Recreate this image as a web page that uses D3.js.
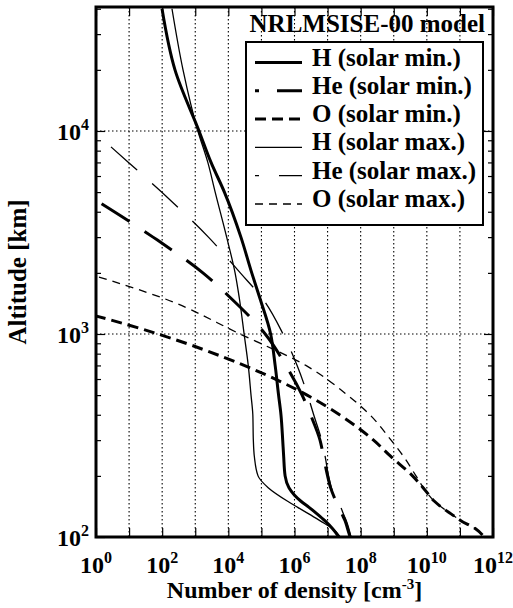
<!doctype html>
<html lang="en">
<head>
<meta charset="utf-8">
<title>NRLMSISE-00 model</title>
<script src="https://d3js.org/d3.v7.min.js"></script>
<style>
  body { margin: 0; background: #fff; }
</style>
</head>
<body>
<script>

// altitude grid [km] shared by every profile
var altitudes = [100, 110, 120, 130, 140, 150, 175, 200, 250, 300, 400, 500, 700, 1000, 1500, 2000, 3000, 5000, 7000, 10000, 20000, 40000];

// number densities [cm^-3] (null = not drawn)
var hMin  = [2.2e7, 1.4e7, 8.4e6, 4.8e6, 2.75e6, 1.57e6, 6.8e5, 5.2e5, 4.7e5, 4.4e5, 3.9e5, 3.3e5, 2.6e5, 1.9e5, 9.0e4, 5.1e4, 2.4e4, 7.6e3, 3.0e3, 1.3e3, 244, 99];
var heMin = [4.8e7, 4.0e7, 3.4e7, 2.7e7, 2.2e7, 1.8e7, 1.23e7, 1.0e7, 7.5e6, 5.9e6, 3.05e6, 1.7e6, 5.5e5, 1.3e5, 1.2e4, 1.7e3, 53, 0.4, null, null, null, null];
var oMin  = [5.4e11, 2.9e11, 1.1e11, 5.4e10, 2.8e10, 1.7e10, 7.7e9, 3.7e9, 8.0e8, 2.45e8, 2.3e7, 2.4e6, 3.0e4, 75, 0.0094, null, null, null, null, null, null, null];
var hMax  = [2.4e7, 1.4e7, 6.0e6, 2.7e6, 1.25e6, 6.2e5, 1.6e5, 7.9e4, 6.1e4, 5.7e4, 5.5e4, 4.85e4, 4.0e4, 3.0e4, 2.15e4, 1.6e4, 8.9e3, 4.0e3, 2.4e3, 1.2e3, 427, 198];
var heMax = [5.1e7, 4.4e7, 3.7e7, 3.0e7, 2.5e7, 2.0e7, 1.3e7, 1.07e7, 8.4e6, 6.6e6, 3.8e6, 2.5e6, 1.2e6, 4.5e5, 1.06e5, 2.3e4, 2.5e3, 96, 9.6, 0.81, null, null];
var oMax  = [5.4e11, 2.9e11, 1.1e11, 5.4e10, 2.8e10, 1.7e10, 7.9e9, 4.7e9, 1.95e9, 8.3e8, 1.9e8, 4.0e7, 2.2e6, 2.25e4, 108, 0.48, null, null, null, null, null, null];

var seriesNames = ["H (solar min.)", "He (solar min.)", "O (solar min.)", "H (solar max.)", "He (solar max.)", "O (solar max.)"];
var seriesValues = [hMin, heMin, oMin, hMax, heMax, oMax];

var xTickExponents = [0, 1, 2, 3, 4, 5, 6, 7, 8, 9, 10, 11, 12];
var xLabelExponents = [0, 2, 4, 6, 8, 10, 12];
var yLabelExponents = [2, 3, 4];
var yGridExponents = [3, 4];
var yMinorTicks = [200, 300, 400, 500, 600, 700, 800, 900, 2000, 3000, 4000, 5000, 6000, 7000, 8000, 9000, 20000, 30000, 40000];

// line styles per series
var styles = [
  {w: 3,   dash: null,    off: 0},
  {w: 3,   dash: "33,18", off: 29},
  {w: 3,   dash: "11,6",  off: 0},
  {w: 1.3, dash: null,    off: 0},
  {w: 1.3, dash: "35,20", off: 31},
  {w: 1.3, dash: "8,6",   off: 0}
];

var FONT = "Liberation Serif";

var margin = {top: 7, right: 20, bottom: 71, left: 96},
    width = 513 - margin.left - margin.right,
    height = 608 - margin.top - margin.bottom;

var svg = d3.select("body").append("svg")
    .attr("width", 513)
    .attr("height", 608)
    .attr("font-family", FONT)
    .attr("font-weight", "bold");

var g = svg.append("g")
    .attr("transform", "translate(" + margin.left + "," + margin.top + ")");

var x = d3.scaleLog().domain([1, 1e12]).range([0, width]);
var y = d3.scaleLog().domain([100, 40800]).range([height, 0]);

g.append("clipPath").attr("id", "plotclip")
  .append("rect").attr("width", width).attr("height", height);

// dotted grid
g.append("g").selectAll("line")
  .data(xTickExponents.slice(1, -1))
  .enter().append("line")
  .attr("x1", function(d) { return x(Math.pow(10, d)); })
  .attr("x2", function(d) { return x(Math.pow(10, d)); })
  .attr("y1", 0).attr("y2", height)
  .attr("stroke", "#000").attr("stroke-width", 1.1)
  .attr("stroke-dasharray", "1.5,2.5");

g.append("g").selectAll("line")
  .data(yGridExponents)
  .enter().append("line")
  .attr("y1", function(d) { return y(Math.pow(10, d)); })
  .attr("y2", function(d) { return y(Math.pow(10, d)); })
  .attr("x1", 0).attr("x2", width)
  .attr("stroke", "#000").attr("stroke-width", 1.1)
  .attr("stroke-dasharray", "1.5,2.5");

// tick marks (inward, both sides)
var xVals = xTickExponents.map(function(e) { return Math.pow(10, e); });
g.append("g").attr("transform", "translate(0," + height + ")")
  .call(d3.axisBottom(x).tickValues(xVals).tickSizeInner(-9).tickSizeOuter(0).tickFormat(""));
g.append("g")
  .call(d3.axisTop(x).tickValues(xVals).tickSizeInner(-9).tickSizeOuter(0).tickFormat(""));

var yMajor = yLabelExponents.map(function(e) { return Math.pow(10, e); });
g.append("g").call(d3.axisLeft(y).tickValues(yMajor).tickSizeInner(-9).tickSizeOuter(0).tickFormat(""));
g.append("g").attr("transform", "translate(" + width + ",0)")
  .call(d3.axisRight(y).tickValues(yMajor).tickSizeInner(-9).tickSizeOuter(0).tickFormat(""));
g.append("g").call(d3.axisLeft(y).tickValues(yMinorTicks).tickSizeInner(-5).tickSizeOuter(0).tickFormat(""));
g.append("g").attr("transform", "translate(" + width + ",0)")
  .call(d3.axisRight(y).tickValues(yMinorTicks).tickSizeInner(-5).tickSizeOuter(0).tickFormat(""));

g.selectAll(".domain").remove();
g.selectAll(".tick line").attr("stroke", "#000").attr("stroke-width", 1.2);

// curves
var line = d3.line()
  .defined(function(d) { return d.n != null; })
  .x(function(d) { return x(d.n); })
  .y(function(d) { return y(d.alt); })
  .curve(d3.curveMonotoneY);

var curves = g.append("g").attr("clip-path", "url(#plotclip)");
seriesValues.forEach(function(vals, i) {
  var pts = altitudes.map(function(a, j) { return {alt: a, n: vals[j]}; }).reverse();
  curves.append("path")
    .datum(pts)
    .attr("fill", "none")
    .attr("stroke", "#000")
    .attr("stroke-width", styles[i].w)
    .attr("stroke-dasharray", styles[i].dash)
    .attr("stroke-dashoffset", styles[i].off)
    .attr("d", line);
});

// frame
g.append("rect")
  .attr("width", width).attr("height", height)
  .attr("fill", "none").attr("stroke", "#000").attr("stroke-width", 3);

// tick labels
var xl = g.append("g").selectAll("text")
  .data(xLabelExponents)
  .enter().append("text")
  .attr("x", function(d) { return x(Math.pow(10, d)); })
  .attr("y", height + 36)
  .attr("text-anchor", "middle")
  .attr("font-family", FONT)
  .attr("font-size", 24);
xl.append("tspan").text("10");
xl.append("tspan").attr("dy", -10).attr("font-size", 16).text(function(d) { return d; });

var yl = g.append("g").selectAll("text")
  .data(yLabelExponents)
  .enter().append("text")
  .attr("x", -7)
  .attr("y", function(d) { return y(Math.pow(10, d)) + 9; })
  .attr("text-anchor", "end")
  .attr("font-family", FONT)
  .attr("font-size", 24);
yl.append("tspan").text("10");
yl.append("tspan").attr("dy", -10).attr("font-size", 16).text(function(d) { return d; });

// axis titles
g.append("text")
  .attr("transform", "translate(-70," + (height / 2) + ") rotate(-90)")
  .attr("text-anchor", "middle")
  .attr("font-family", FONT)
  .attr("font-size", 25)
  .text("Altitude [km]");

var xt = g.append("text")
  .attr("x", width / 2)
  .attr("y", height + 61)
  .attr("text-anchor", "middle")
  .attr("font-family", FONT)
  .attr("font-size", 24);
xt.append("tspan").text("Number of density [cm");
xt.append("tspan").attr("dy", -9).attr("font-size", 15).text("-3");
xt.append("tspan").attr("dy", 9).text("]");

// title inside the axes
g.append("text")
  .attr("x", width - 8)
  .attr("y", 25)
  .attr("text-anchor", "end")
  .attr("font-family", FONT)
  .attr("font-size", 25)
  .text("NRLMSISE-00 model");

// legend
var legend = g.append("g").attr("transform", "translate(150,35)");
legend.append("rect")
  .attr("width", 237).attr("height", 183)
  .attr("fill", "#fff").attr("stroke", "#000").attr("stroke-width", 2);

var rows = legend.selectAll("g.row")
  .data(seriesNames)
  .enter().append("g")
  .attr("class", "row")
  .attr("transform", function(d, i) { return "translate(0," + (20.5 + i * 28.3) + ")"; });

rows.append("line")
  .attr("x1", 9).attr("x2", 56)
  .attr("y1", 0).attr("y2", 0)
  .attr("stroke", "#000")
  .attr("stroke-width", function(d, i) { return styles[i].w; })
  .attr("stroke-dasharray", function(d, i) { return styles[i].dash; })
  .attr("stroke-dashoffset", function(d, i) { return styles[i].off; });

rows.append("text")
  .attr("x", 66)
  .attr("y", 3)
  .attr("font-family", FONT)
  .attr("font-size", 25)
  .text(function(d) { return d; });

</script>
</body>
</html>
